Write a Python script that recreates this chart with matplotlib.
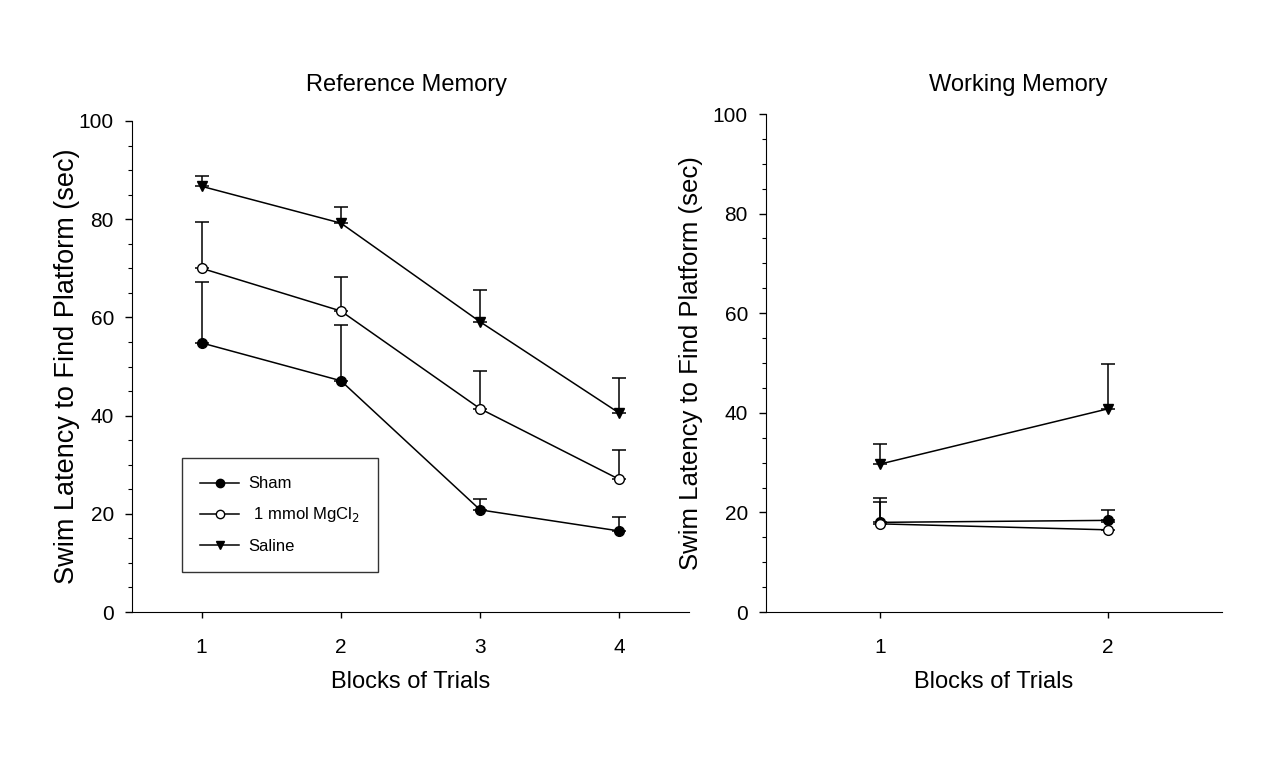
import matplotlib.pyplot as plt
import numpy as np
from matplotlib.ticker import MultipleLocator
from matplotlib.lines import Line2D

plt.rcParams['font.family'] = ['Liberation Sans', 'DejaVu Sans']

# Reference memory (blocks 1-4)
ref_blocks = [1, 2, 3, 4]
ref_sham = [54.8, 47.1, 20.8, 16.5]
ref_sham_err = [12.5, 11.3, 2.2, 2.8]
ref_mg = [70.0, 61.3, 41.4, 27.0]
ref_mg_err = [9.4, 6.9, 7.6, 6.0]
ref_saline = [86.7, 79.2, 59.1, 40.5]
ref_saline_err = [2.0, 3.3, 6.4, 7.2]

# Working memory (blocks 1-2)
wm_blocks = [1, 2]
wm_sham = [18.0, 18.4]
wm_sham_err = [4.8, 2.0]
wm_mg = [17.7, 16.5]
wm_mg_err = [4.4, 1.5]
wm_saline = [29.7, 40.8]
wm_saline_err = [4.1, 9.0]

labels = ['Sham', ' 1 mmol MgCl$_2$', 'Saline']

W, H = 1269, 764
fig = plt.figure(figsize=(W / 100, H / 100), dpi=100)
# axes boxes in pixels (left, top, right, bottom)
ax1 = fig.add_axes([132 / W, 1 - 612 / H, (689 - 132) / W, (612 - 121) / H])
ax2 = fig.add_axes([766 / W, 1 - 612 / H, (1222 - 766) / W, (612 - 114) / H])


def draw(ax, x, sham, sham_e, mg, mg_e, sal, sal_e):
    kw = dict(color='black', lw=1.1, capsize=5, capthick=1.1, elinewidth=1.1, ms=7)
    z = np.zeros(len(x))
    ax.errorbar(x, sham, yerr=[z, sham_e], fmt='-o', mfc='black', mec='black', **kw)
    ax.errorbar(x, mg, yerr=[z, mg_e], fmt='-o', mfc='white', mec='black', **kw)
    ax.errorbar(x, sal, yerr=[z, sal_e], fmt='-v', mfc='black', mec='black', **kw)
    ax.set_ylim(0, 100)
    ax.yaxis.set_major_locator(MultipleLocator(20))
    ax.yaxis.set_minor_locator(MultipleLocator(5))
    ax.spines['top'].set_visible(False)
    ax.spines['right'].set_visible(False)
    ax.tick_params(axis='y', which='major', length=5, width=1, labelsize=15, pad=8, direction='out')
    ax.tick_params(axis='y', which='minor', length=3, width=0.8, direction='out')
    ax.tick_params(axis='x', which='major', length=4, width=1, labelsize=15, direction='out', pad=15)
    ax.set_xlabel('Blocks of Trials', fontsize=17, labelpad=10)


draw(ax1, ref_blocks, ref_sham, ref_sham_err, ref_mg, ref_mg_err, ref_saline, ref_saline_err)
ax1.set_xlim(0.5, 4.5)
ax1.set_xticks(ref_blocks)
ax1.set_ylabel('Swim Latency to Find Platform (sec)', fontsize=19.5, labelpad=-1)

handles = [
    Line2D([], [], color='black', lw=1.1, marker='o', ms=6, mfc='black', mec='black'),
    Line2D([], [], color='black', lw=1.1, marker='o', ms=6, mfc='white', mec='black'),
    Line2D([], [], color='black', lw=1.1, marker='v', ms=6, mfc='black', mec='black'),
]
leg = ax1.legend(handles, labels, loc='lower left', bbox_to_anchor=(50 / 557, 40 / 491),
                 fontsize=12, frameon=True, fancybox=False, edgecolor='black',
                 handlelength=2.3, handletextpad=0.6, borderpad=1.1, labelspacing=0.85,
                 borderaxespad=0)
leg.get_frame().set_linewidth(1.0)

draw(ax2, wm_blocks, wm_sham, wm_sham_err, wm_mg, wm_mg_err, wm_saline, wm_saline_err)
ax2.set_xlim(0.5, 2.5)
ax2.set_xticks(wm_blocks)
ax2.set_ylabel('Swim Latency to Find Platform (sec)', fontsize=18.5, labelpad=7)

fig.text(406 / W, 1 - 85 / H, 'Reference Memory', fontsize=17, ha='center', va='center')
fig.text(1018 / W, 1 - 85 / H, 'Working Memory', fontsize=17, ha='center', va='center')

fig.savefig('out.png', dpi=100)
